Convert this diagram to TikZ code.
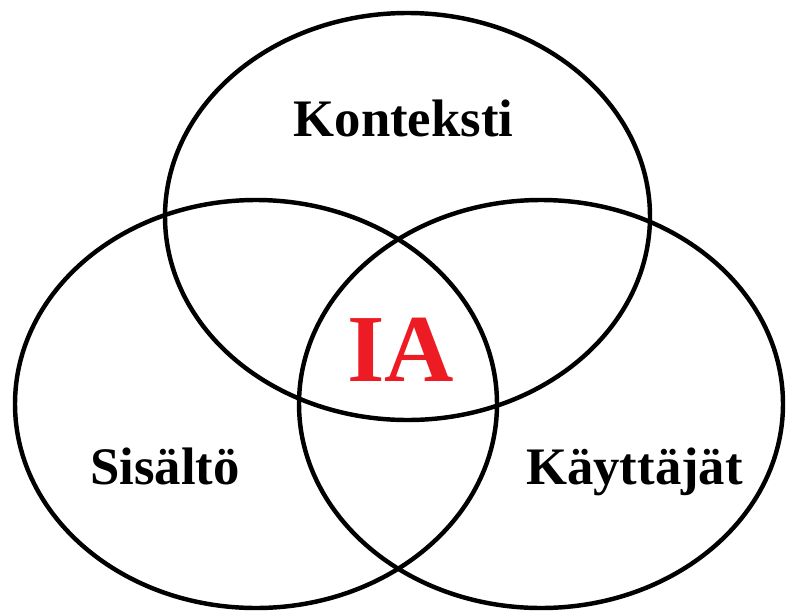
\documentclass[tikz,border=0pt]{standalone}
\usepackage{fontspec}
\setmainfont{Liberation Serif}
\usepackage{xcolor}
\usepackage{tikz}
\usetikzlibrary{positioning}
\definecolor{iared}{RGB}{237,28,36}
\tikzset{
  ring/.style={draw=black,line width=3.8pt},
  lbl/.style={anchor=base,inner sep=0pt,font=\fontsize{45}{48}\selectfont\bfseries},
  core/.style={lbl,text=iared,font=\fontsize{82}{86}\selectfont\bfseries},
}

\begin{document}
\begin{tikzpicture}[x=0.03cm,y=-0.03cm]
\useasboundingbox (0,0) rectangle (786,610);
% the three sets
\draw[ring] (407.5,216.5) ellipse [x radius=242.5,y radius=203.5];
\draw[ring] (256,404) ellipse [x radius=241,y radius=204];
\draw[ring] (541,404) ellipse [x radius=242,y radius=204];
% labels
\node[lbl] (konteksti) at (403.5,136) {Konteksti};
\node[lbl] (sisalto) at (165,484) {Sisältö};
\node[lbl] (kayttajat) at (634.5,484) {Käyttäjät};
\node[core] (ia) at (401,381) {IA};
\end{tikzpicture}
\end{document}
